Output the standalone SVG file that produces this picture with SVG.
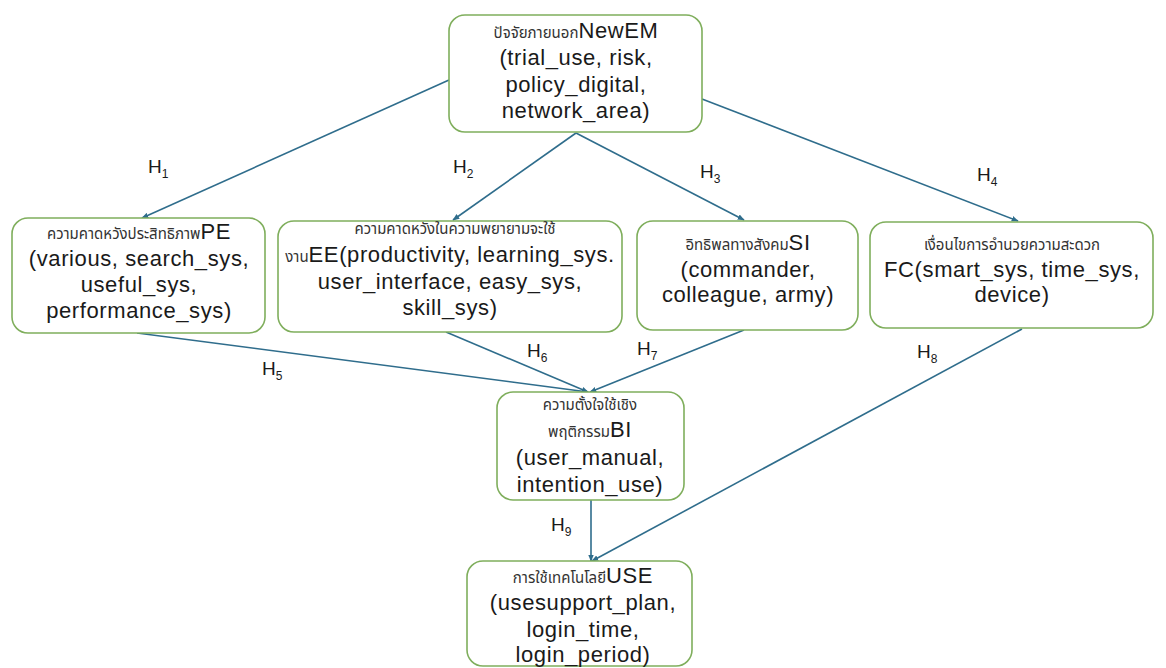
<svg xmlns="http://www.w3.org/2000/svg" width="1166" height="668" viewBox="0 0 1166 668">
  <defs>
    <marker id="arrow" viewBox="0 0 10 10" refX="9" refY="5" markerWidth="7" markerHeight="7" markerUnits="userSpaceOnUse" orient="auto">
      <path d="M0,1 L10,5 L0,9 z" fill="#2f6d8c"/>
    </marker>
    <style>
      .box { fill: #ffffff; stroke: #7fae5c; stroke-width: 1.6; }
      .t { font-family: "Liberation Sans", Arial, sans-serif; font-size: 22px; letter-spacing: 0.6px; fill: #1a1a1a; text-anchor: middle; }
      .th { font-family: "Noto Sans Thai", "DejaVu Sans", "Liberation Sans", sans-serif; font-size: 15px; letter-spacing: 0; fill: #333333; }
      .edge { stroke: #2f6d8c; stroke-width: 1.6; fill: none; marker-end: url(#arrow); }
      .h { font-family: "Liberation Sans", Arial, sans-serif; font-size: 19px; fill: #1a1a1a; }
      .sub { font-size: 12px; }
    </style>
  </defs>
  <rect width="1166" height="668" fill="#ffffff"/>

  <g id="connectors">
    <line class="edge" x1="449" y1="80" x2="142" y2="218"/>
    <line class="edge" x1="576" y1="133" x2="453" y2="220"/>
    <line class="edge" x1="576" y1="133" x2="744" y2="220"/>
    <line class="edge" x1="702" y1="99" x2="1018" y2="221"/>
    <line class="edge" x1="137" y1="333" x2="588" y2="392"/>
    <line class="edge" x1="446" y1="332" x2="588" y2="392"/>
    <line class="edge" x1="744" y1="330" x2="590" y2="392"/>
    <line class="edge" x1="1022" y1="329" x2="592" y2="561"/>
    <line class="edge" x1="591" y1="500" x2="591" y2="561"/>
  </g>

  <g id="labels">
    <text class="h" x="148" y="173">H<tspan class="sub" dy="5">1</tspan></text>
    <text class="h" x="453" y="173">H<tspan class="sub" dy="5">2</tspan></text>
    <text class="h" x="700" y="178">H<tspan class="sub" dy="5">3</tspan></text>
    <text class="h" x="977" y="181">H<tspan class="sub" dy="5">4</tspan></text>
    <text class="h" x="262" y="375">H<tspan class="sub" dy="5">5</tspan></text>
    <text class="h" x="527" y="357">H<tspan class="sub" dy="5">6</tspan></text>
    <text class="h" x="637" y="355">H<tspan class="sub" dy="5">7</tspan></text>
    <text class="h" x="917" y="358">H<tspan class="sub" dy="5">8</tspan></text>
    <text class="h" x="551" y="531">H<tspan class="sub" dy="5">9</tspan></text>
  </g>

  <g id="node-newem">
    <rect class="box" x="449" y="15" width="253" height="117" rx="16"/>
    <text class="t" x="576" y="38"><tspan class="th">ปัจจัยภายนอก</tspan>NewEM</text>
    <text class="t" x="576" y="65">(trial_use, risk,</text>
    <text class="t" x="576" y="92">policy_digital,</text>
    <text class="t" x="576" y="118">network_area)</text>
  </g>

  <g id="node-pe">
    <rect class="box" x="12" y="218" width="253" height="115" rx="16"/>
    <text class="t" x="139" y="239"><tspan class="th">ความคาดหวังประสิทธิภาพ</tspan>PE</text>
    <text class="t" x="139" y="266">(various, search_sys,</text>
    <text class="t" x="139" y="292">useful_sys,</text>
    <text class="t" x="139" y="318">performance_sys)</text>
  </g>

  <g id="node-ee">
    <rect class="box" x="278" y="221" width="344" height="111" rx="16"/>
    <text class="t" x="455" y="234"><tspan class="th">ความคาดหวังในความพยายามจะใช้</tspan></text>
    <text class="t" x="450" y="262"><tspan class="th">งาน</tspan>EE(productivity, learning_sys.</text>
    <text class="t" x="450" y="289">user_interface, easy_sys,</text>
    <text class="t" x="450" y="315">skill_sys)</text>
  </g>

  <g id="node-si">
    <rect class="box" x="637" y="221" width="221" height="109" rx="16"/>
    <text class="t" x="748" y="250"><tspan class="th">อิทธิพลทางสังคม</tspan>SI</text>
    <text class="t" x="748" y="277">(commander,</text>
    <text class="t" x="748" y="302">colleague, army)</text>
  </g>

  <g id="node-fc">
    <rect class="box" x="870" y="222" width="283" height="106" rx="16"/>
    <text class="t" x="1012" y="250"><tspan class="th">เงื่อนไขการอำนวยความสะดวก</tspan></text>
    <text class="t" x="1012" y="277">FC(smart_sys, time_sys,</text>
    <text class="t" x="1012" y="302">device)</text>
  </g>

  <g id="node-bi">
    <rect class="box" x="497" y="392" width="187" height="108" rx="16"/>
    <text class="t" x="590" y="410"><tspan class="th">ความตั้งใจใช้เชิง</tspan></text>
    <text class="t" x="590" y="437"><tspan class="th">พฤติกรรม</tspan>BI</text>
    <text class="t" x="590" y="465">(user_manual,</text>
    <text class="t" x="590" y="492">intention_use)</text>
  </g>

  <g id="node-use">
    <rect class="box" x="467" y="561" width="225" height="105" rx="16"/>
    <text class="t" x="583" y="583"><tspan class="th">การใช้เทคโนโลยี</tspan>USE</text>
    <text class="t" x="583" y="610">(usesupport_plan,</text>
    <text class="t" x="583" y="637">login_time,</text>
    <text class="t" x="583" y="662">login_period)</text>
  </g>
</svg>
